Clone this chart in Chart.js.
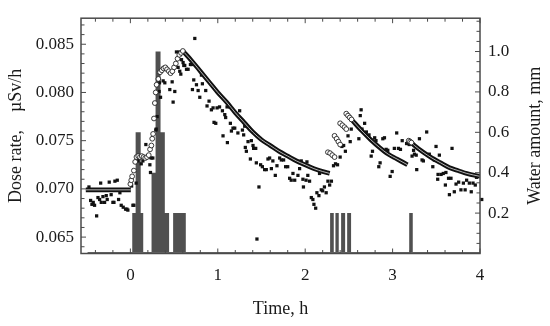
<!DOCTYPE html>
<html>
<head>
<meta charset="utf-8">
<script src="https://cdn.jsdelivr.net/npm/chart.js@4.4.1/dist/chart.umd.min.js"></script>
<style>
  body { margin: 0; background: #fff; }
  canvas { display: block; }
</style>
</head>
<body>
<canvas id="chart" width="550" height="326"></canvas>
<script>
// --- tick labels ---
const timeTicks = [0, 1, 2, 3, 4];
const doseTicks = [0.065, 0.070, 0.075, 0.080, 0.085];
const waterTicks = [0.2, 0.4, 0.6, 0.8, 1.0];

// --- measured dose rate (black squares) [time h, uSv/h] ---
const measured = [
  [-0.474,0.0702],[-0.455,0.0688],[-0.44,0.0684],[-0.425,0.0686],[-0.41,0.0683],[-0.386,0.0672],
  [-0.371,0.0691],[-0.352,0.0689],[-0.34,0.0706],[-0.333,0.0686],[-0.314,0.0692],[-0.295,0.0686],
  [-0.276,0.0693],[-0.265,0.0689],[-0.242,0.0707],[-0.22,0.0694],[-0.2,0.0686],[-0.188,0.0686],
  [-0.177,0.0708],[-0.15,0.0709],[-0.135,0.0689],[-0.12,0.0696],[-0.105,0.0683],[-0.082,0.0681],
  [-0.055,0.0679],[-0.04,0.0679],[-0.029,0.0678],
  [0.014,0.0703],[0.029,0.0683],[0.04,0.0683],[0.066,0.0706],[0.086,0.0729],[0.124,0.0726],
  [0.143,0.0729],[0.177,0.0746],[0.211,0.0733],[0.223,0.0725],[0.23,0.0717],[0.238,0.0732],
  [0.257,0.0732],[0.291,0.0761],[0.295,0.0762],[0.306,0.0775],[0.329,0.0801],[0.333,0.0810],
  [0.345,0.0795],[0.375,0.0812],[0.394,0.0810],[0.451,0.0803],[0.478,0.0811],[0.489,0.0790],
  [0.508,0.0801],[0.527,0.0842],[0.546,0.0826],[0.56,0.0842],[0.565,0.0822],[0.577,0.0819],
  [0.585,0.0834],[0.603,0.0831],[0.611,0.0828],[0.622,0.0828],[0.642,0.0824],[0.66,0.0824],
  [0.687,0.0829],[0.699,0.0829],[0.71,0.0803],[0.725,0.0813],[0.737,0.0856],[0.756,0.0808],
  [0.775,0.0802],[0.794,0.0795],[0.813,0.0818],[0.824,0.0809],[0.862,0.0802],[0.877,0.0786],
  [0.9,0.0791],[0.927,0.0782],[0.946,0.0784],[0.957,0.0769],[0.977,0.0768],[0.992,0.0784],
  [1.02,0.0785],[1.053,0.0781],[1.06,0.0755],[1.08,0.0777],[1.09,0.0774],[1.106,0.0785],
  [1.11,0.0748],[1.137,0.0785],[1.144,0.0768],[1.156,0.0760],[1.174,0.0763],[1.194,0.0763],
  [1.23,0.0758],[1.25,0.0781],[1.282,0.0761],[1.296,0.0756],[1.308,0.0765],[1.315,0.0743],
  [1.327,0.0739],[1.346,0.0749],[1.373,0.0731],[1.384,0.0750],[1.403,0.0745],[1.41,0.0742],
  [1.434,0.0742],[1.441,0.0727],[1.448,0.0648],[1.471,0.0702],[1.49,0.0725],[1.51,0.0723],
  [1.536,0.0720],[1.555,0.0720],[1.574,0.0731],[1.593,0.0732],[1.613,0.0721],[1.63,0.0729],
  [1.658,0.0714],[1.677,0.0724],[1.708,0.0732],[1.727,0.0730],[1.753,0.0730],[1.776,0.0723],
  [1.80,0.0723],[1.822,0.0711],[1.84,0.0709],[1.86,0.0716],[1.88,0.0709],[1.917,0.0714],
  [1.936,0.0721],[1.955,0.0729],[1.974,0.0710],[1.98,0.0702],[2.01,0.0709],[2.02,0.0728],
  [2.03,0.0714],[2.05,0.0708],[2.07,0.0691],[2.088,0.0689],[2.1,0.0684],[2.12,0.0680],
  [2.134,0.0696],[2.157,0.0693],[2.164,0.0716],[2.184,0.0699],[2.2,0.0698],[2.22,0.0702],
  [2.24,0.0696],[2.26,0.0708],[2.28,0.0704],[2.30,0.0708],[2.324,0.0724],[2.347,0.0726],
  [2.37,0.0725],[2.40,0.0733],[2.42,0.0744],[2.44,0.0745],[2.46,0.0739],[2.49,0.0755],
  [2.515,0.0749],[2.527,0.0762],[2.614,0.0752],[2.63,0.0776],[2.64,0.0782],[2.65,0.0762],
  [2.68,0.0768],[2.70,0.0759],[2.73,0.0756],[2.755,0.0734],[2.77,0.0739],[2.795,0.0753],
  [2.81,0.0750],[2.842,0.0723],[2.857,0.0727],[2.888,0.0752],[2.907,0.0753],[2.926,0.0741],
  [2.945,0.0740],[2.972,0.0713],[2.995,0.0718],[3.02,0.0742],[3.047,0.0758],[3.067,0.0742],
  [3.09,0.0741],[3.11,0.0750],[3.16,0.0747],[3.19,0.0746],[3.223,0.0734],[3.24,0.0740],
  [3.25,0.0736],[3.27,0.0735],[3.276,0.0720],[3.307,0.0752],[3.337,0.0730],[3.352,0.0729],
  [3.39,0.0759],[3.42,0.0736],[3.46,0.0723],[3.478,0.0730],[3.497,0.0744],[3.516,0.0710],
  [3.52,0.0715],[3.535,0.0735],[3.555,0.0715],[3.58,0.0716],[3.604,0.0704],[3.61,0.0717],
  [3.64,0.0711],[3.65,0.0694],[3.668,0.0711],[3.68,0.0742],[3.706,0.0697],[3.726,0.0705],
  [3.756,0.0707],[3.782,0.0699],[3.81,0.0706],[3.83,0.0699],[3.847,0.0709],[3.878,0.0706],
  [3.9,0.0697],[3.92,0.0706],[3.946,0.0704],[3.96,0.0712],[4.02,0.0689]
];

// --- model (open circles where it rises) ---
const modelCircles = [
  [0.00,0.0705],[0.01,0.0709],[0.02,0.0713],[0.04,0.0719],[0.055,0.0728],[0.07,0.0733],
  [0.09,0.0734],[0.11,0.0733],[0.13,0.0734],[0.15,0.0733],[0.17,0.0732],[0.19,0.0733],
  [0.21,0.0735],[0.225,0.0741],[0.24,0.0745],[0.25,0.0752],[0.26,0.0757],[0.27,0.0773],
  [0.28,0.0789],[0.29,0.0800],[0.30,0.0808],[0.32,0.0814],[0.34,0.0821],[0.36,0.0823],
  [0.38,0.0825],[0.40,0.0826],[0.42,0.0824],[0.44,0.0822],[0.46,0.0820],[0.48,0.0822],
  [0.50,0.0826],[0.52,0.0830],[0.54,0.0835],[0.56,0.0839],[0.58,0.0841],[0.60,0.0843],
  [2.26,0.0738],[2.285,0.0737],[2.31,0.0735],[2.336,0.0733],
  [2.336,0.0755],[2.36,0.0752],[2.38,0.0749],[2.40,0.0746],
  [2.40,0.0768],[2.425,0.0766],[2.45,0.0764],[2.47,0.0762],
  [2.47,0.0778],[2.49,0.0776],[2.51,0.0774],[2.53,0.0772],
  [3.185,0.0750],[3.20,0.0749],[3.215,0.0748]
];

// --- model (thick line segments) ---
const modelFlat = [[-0.51,0.0699],[0.005,0.0699]];
const modelDecay1 = [
  [0.60,0.0843],[0.70,0.0833],[0.80,0.0822],[0.90,0.0811],[1.00,0.0800],[1.10,0.0790],
  [1.20,0.0779],[1.30,0.0769],[1.40,0.0759],[1.50,0.0751],[1.60,0.0745],[1.70,0.0739],
  [1.80,0.0734],[1.90,0.0729],[2.00,0.0725],[2.10,0.0721],[2.20,0.0718],[2.28,0.0716]
];
const modelDecay2 = [
  [2.53,0.0772],[2.65,0.0760],[2.75,0.0751],[2.85,0.0743],[2.95,0.0736],[3.05,0.0731],[3.17,0.0725]
];
const modelDecay3 = [
  [3.215,0.0748],[3.25,0.0745],[3.35,0.0738],[3.45,0.0732],[3.55,0.0727],[3.65,0.0722],
  [3.75,0.0719],[3.85,0.0716],[4.0,0.0713]
];

// --- water amount (grey bars) ---
const rainStart = [0.02, 0.06, 0.118, 0.242, 0.288, 0.345, 0.394, 0.489, 2.285, 2.346, 2.411, 2.48, 3.19];
const rainEnd   = [0.06, 0.118, 0.147, 0.288, 0.345, 0.394, 0.443, 0.634, 2.327, 2.384, 2.457, 2.525, 3.232];
const rainMm    = [0.2, 0.6, 0.2, 0.4, 1.0, 0.6, 0.2, 0.2, 0.2, 0.2, 0.2, 0.2, 0.2];
const rainBase  = [-0.49, 4.0];

const pts = arr => arr.map(p => ({ x: p[0], y: p[1] }));

// line segments joined with gaps
const modelLine = [];
[modelFlat, modelDecay1, modelDecay2, modelDecay3].forEach(seg => {
  if (modelLine.length) modelLine.push({ x: seg[0][0] - 0.001, y: null });
  seg.forEach(p => modelLine.push({ x: p[0], y: p[1] }));
});

// histogram outline
const rainOutline = [{ x: rainStart[0], y: 0 }];
rainStart.forEach((s, i) => {
  rainOutline.push({ x: s, y: 0 }, { x: s, y: rainMm[i] }, { x: rainEnd[i], y: rainMm[i] }, { x: rainEnd[i], y: 0 });
});

const serif = '"Liberation Serif", "Times New Roman", serif';
const ink = '#1a1a1a';

const frame = {
  id: 'frame',
  afterDraw(chart) {
    const { ctx, chartArea: a, scales } = chart;
    ctx.save();
    ctx.strokeStyle = '#4a4a4a';
    ctx.lineWidth = 1;
    ctx.beginPath();
    for (let i = -2; i <= 20; i++) {
      const px = scales.x.getPixelForValue(i * 0.2);
      const len = i % 5 === 0 ? 5 : 3.5;
      ctx.moveTo(px, a.bottom); ctx.lineTo(px, a.bottom - len);
      ctx.moveTo(px, a.top); ctx.lineTo(px, a.top + len);
    }
    for (let i = 64; i <= 87; i++) {
      const py = scales.y.getPixelForValue(i / 1000);
      const len = i % 5 === 0 ? 5 : 3.5;
      ctx.moveTo(a.left, py); ctx.lineTo(a.left + len, py);
    }
    for (let i = 1; i <= 23; i++) {
      const py = scales.y2.getPixelForValue(i * 0.05);
      const len = i % 4 === 0 ? 5 : 3.5;
      ctx.moveTo(a.right, py); ctx.lineTo(a.right - len, py);
    }
    ctx.stroke();
    ctx.lineWidth = 1.5;
    ctx.strokeRect(a.left, a.top, a.right - a.left, a.bottom - a.top);

    ctx.fillStyle = ink;
    ctx.font = '18px ' + serif;
    ctx.textAlign = 'center';
    ctx.textBaseline = 'middle';
    ctx.translate(535, (a.top + a.bottom) / 2);
    ctx.rotate(-Math.PI / 2);
    ctx.fillText('Water amount, mm', 0, 0);
    ctx.restore();
  }
};

new Chart(document.getElementById('chart'), {
  type: 'line',
  data: {
    datasets: [
      {
        data: pts(modelCircles), yAxisID: 'y', showLine: false,
        pointStyle: 'circle', pointRadius: 2.4, pointBorderWidth: 0.9,
        pointBorderColor: '#222', pointBackgroundColor: '#fff'
      },
      {
        data: modelLine, yAxisID: 'y', borderColor: '#c8c8c8', borderWidth: 0.9,
        pointRadius: 0, spanGaps: false, cubicInterpolationMode: 'monotone'
      },
      {
        data: modelLine, yAxisID: 'y', borderColor: '#111', borderWidth: 4.6,
        pointRadius: 0, spanGaps: false, cubicInterpolationMode: 'monotone'
      },
      {
        data: pts(measured), yAxisID: 'y', showLine: false, clip: false,
        pointStyle: 'rect', pointRadius: 2.3, pointBorderWidth: 0,
        pointBackgroundColor: '#111'
      },
      {
        data: rainBase.map(x => ({ x, y: 0 })), yAxisID: 'y2',
        borderColor: '#666', borderWidth: 3, pointRadius: 0
      },
      {
        data: rainOutline, yAxisID: 'y2', borderWidth: 0, borderColor: '#505050',
        backgroundColor: '#505050', fill: 'origin', pointRadius: 0, tension: 0
      }
    ]
  },
  options: {
    responsive: false,
    animation: false,
    layout: { padding: { top: 7, left: 0, right: 0, bottom: 0 } },
    plugins: { legend: { display: false }, tooltip: { enabled: false } },
    scales: {
      x: {
        type: 'linear', min: -0.565, max: 4.0,
        afterBuildTicks: s => { s.ticks = timeTicks.map(v => ({ value: v })); },
        afterFit: s => { s.height = 72.5; },
        grid: { display: false, drawTicks: false },
        border: { display: false },
        ticks: { font: { family: serif, size: 17 }, color: ink, padding: 12, maxRotation: 0, callback: v => String(v) },
        title: { display: true, text: 'Time, h', color: ink, font: { family: serif, size: 18 }, padding: { top: 0, bottom: 6 } }
      },
      y: {
        position: 'left', min: 0.0633, max: 0.0877,
        afterBuildTicks: s => { s.ticks = doseTicks.map(v => ({ value: v })); },
        afterFit: s => { s.width = 81; },
        grid: { display: false, drawTicks: false },
        border: { display: false },
        ticks: { font: { family: serif, size: 17 }, color: ink, padding: 7, callback: v => v.toFixed(3) },
        title: { display: true, text: 'Dose rate,    µSv/h', color: ink, font: { family: serif, size: 18 }, padding: { top: 5, bottom: 0 } }
      },
      y2: {
        position: 'right', min: 0, max: 1.165,
        afterBuildTicks: s => { s.ticks = waterTicks.map(v => ({ value: v })); },
        afterFit: s => { s.width = 70; },
        grid: { display: false, drawTicks: false },
        border: { display: false },
        ticks: { font: { family: serif, size: 17 }, color: ink, padding: 8, callback: v => v.toFixed(1) }
      }
    }
  },
  plugins: [frame]
});
</script>
</body>
</html>
